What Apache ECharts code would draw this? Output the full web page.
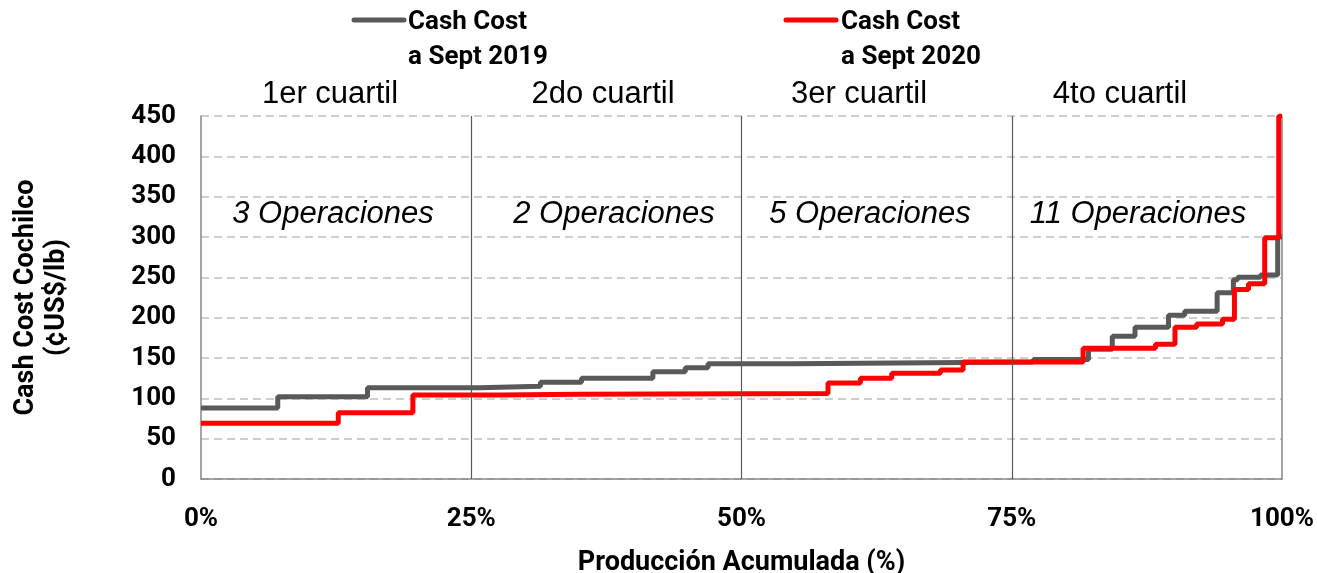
<!DOCTYPE html>
<html>
<head>
<meta charset="utf-8">
<script src="https://cdn.jsdelivr.net/npm/echarts@6/dist/echarts.min.js"></script>
<style>
  html, body { margin: 0; padding: 0; background: #fff; }
  #main { width: 1317px; height: 573px; }
</style>
</head>
<body>
<div id="main"></div>
<script>
// curva de costos: [produccion acumulada %, cash cost ¢US$/lb] (inicio de cada tramo)
var cost2019 = [
  [0, 88], [7.1, 102], [15.4, 113], [25.8, 115], [31.4, 120], [35.2, 125],
  [41.8, 133], [44.8, 138], [46.9, 143], [54.7, 145], [77.0, 148], [82.1, 161],
  [84.3, 177], [86.4, 188], [89.5, 203], [91.0, 208], [94.0, 231], [95.5, 247],
  [95.9, 250], [98.0, 253], [99.6, 300], [100, 300]
];
var cost2020 = [
  [0, 69], [12.7, 82], [19.6, 104], [27.7, 105], [35.0, 106], [58.0, 119],
  [61.0, 125], [63.9, 131], [68.4, 135], [70.5, 145], [81.6, 162], [88.3, 167],
  [90.1, 188], [92.1, 192], [94.5, 198], [95.6, 235], [96.9, 242], [98.4, 299],
  [99.7, 450], [100, 450]
];
var seriesNames = ['Cash Cost\na Sept 2019', 'Cash Cost\na Sept 2020'];
var quartileLimits = [25, 50, 75];
var quartileLabels = ['1er cuartil', '2do cuartil', '3er cuartil', '4to cuartil'];
var operaciones = ['3 Operaciones', '2 Operaciones', '5 Operaciones', '11 Operaciones'];

var boldFont = 'Roboto';
var plainFont = '"Liberation Sans", Arial';

var myChart = echarts.init(document.getElementById('main'));

// textos de cuartiles (x centrados aprox. como en la figura)
var qx = [330, 603, 859, 1120];
var ox = [333, 614, 870, 1138];
var graphics = [];
quartileLabels.forEach(function (t, i) {
  graphics.push({
    type: 'text', x: qx[i], y: 94,
    style: { text: t, font: '31px ' + plainFont, fill: '#000', textAlign: 'center', textVerticalAlign: 'middle' }
  });
});
operaciones.forEach(function (t, i) {
  graphics.push({
    type: 'text', x: ox[i], y: 214,
    style: { text: t, font: 'italic 31px ' + plainFont, fill: '#000', textAlign: 'center', textVerticalAlign: 'middle' }
  });
});
// leyenda
var legendPos = [{ x1: 354, x2: 404, tx: 408, color: '#595959' }, { x1: 786, x2: 836, tx: 841, color: '#ff0000' }];
legendPos.forEach(function (p, i) {
  graphics.push({
    type: 'line',
    shape: { x1: p.x1, y1: 20, x2: p.x2, y2: 20 },
    style: { stroke: p.color, lineWidth: 5, lineCap: 'round' }
  });
  var lines = seriesNames[i].split('\n');
  graphics.push({
    type: 'text', x: p.tx, y: 22,
    style: { text: lines[0], font: 'bold 26px ' + boldFont, fill: '#000', textVerticalAlign: 'middle' }
  });
  graphics.push({
    type: 'text', x: p.tx, y: 57,
    style: { text: lines[1], font: 'bold 26px ' + boldFont, fill: '#000', textVerticalAlign: 'middle' }
  });
});

var options = {
  animation: false,
  grid: { left: 201, right: 35, top: 116, bottom: 94, outerBoundsMode: 'none', containLabel: false },
  xAxis: {
    type: 'value', min: 0, max: 100, interval: 25,
    name: 'Producción Acumulada (%)', nameLocation: 'middle', nameGap: 71,
    nameTextStyle: { fontFamily: boldFont, fontWeight: 'bold', fontSize: 27, color: '#000' },
    axisLine: { lineStyle: { color: '#868686', width: 1.5 } },
    axisTick: { show: false },
    axisLabel: { formatter: '{value}%', margin: 27, fontFamily: boldFont, fontWeight: 'bold', fontSize: 26, color: '#000' },
    splitLine: { show: false }
  },
  yAxis: [{
    type: 'value', min: 0, max: 450, interval: 50,
    name: 'Cash Cost Cochilco\n(¢US$/lb)', nameLocation: 'middle', nameRotate: 90, nameGap: 128,
    nameTextStyle: { fontFamily: boldFont, fontWeight: 'bold', fontSize: 27, color: '#000', lineHeight: 31 },
    axisLine: { show: true, lineStyle: { color: '#868686', width: 1.5 } },
    axisTick: { show: false },
    axisLabel: { margin: 25, fontFamily: boldFont, fontWeight: 'bold', fontSize: 26, color: '#000' },
    splitLine: { lineStyle: { color: '#bfbfbf', type: [8, 5], width: 1.5 } }
  }, {
    type: 'value', min: 0, max: 450, position: 'right',
    axisLine: { show: true, lineStyle: { color: '#868686', width: 1.5 } },
    axisTick: { show: false }, axisLabel: { show: false }, splitLine: { show: false }
  }],
  graphic: graphics,
  series: [{
    name: seriesNames[0],
    type: 'line', step: 'end', symbol: 'none',
    data: cost2019,
    lineStyle: { color: '#595959', width: 5 },
    markLine: {
      silent: true, symbol: 'none', label: { show: false },
      lineStyle: { color: '#595959', type: 'solid', width: 1.2 },
      data: quartileLimits.map(function (q) { return { xAxis: q }; })
    }
  }, {
    name: seriesNames[1],
    type: 'line', step: 'end', symbol: 'none',
    data: cost2020,
    lineStyle: { color: '#ff0000', width: 5 }
  }]
};
myChart.setOption(options);
</script>
</body>
</html>
